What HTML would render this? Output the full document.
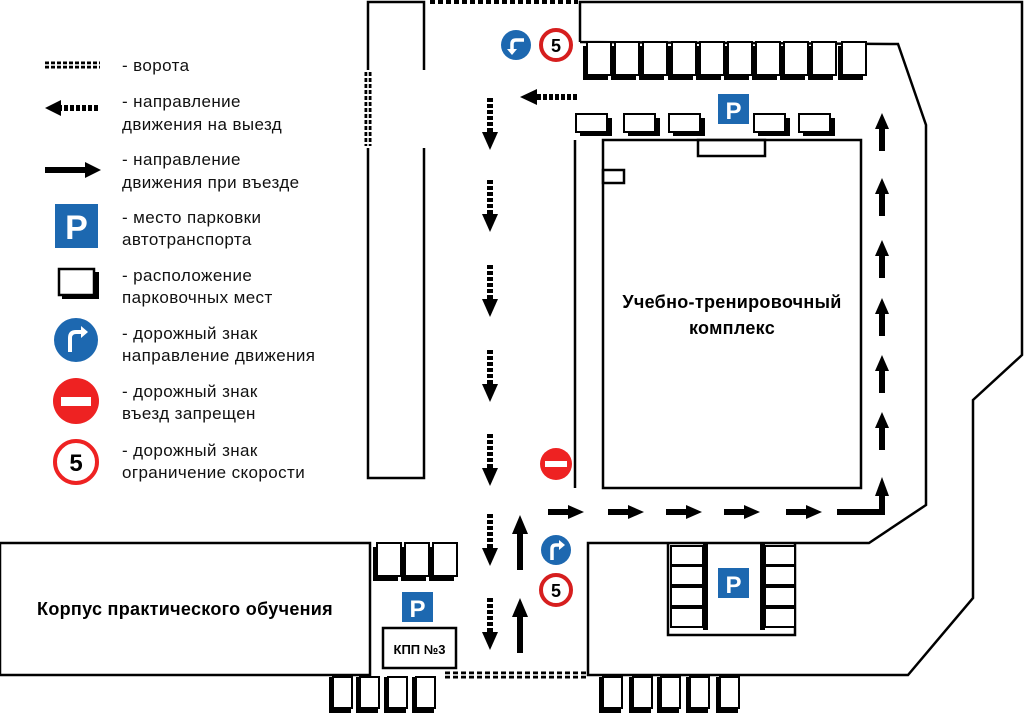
<!DOCTYPE html>
<html><head><meta charset="utf-8"><style>
html,body{margin:0;padding:0;background:#fff;}
svg{display:block;font-family:"Liberation Sans","DejaVu Sans",sans-serif;}
.lg{font-size:17px;fill:#111;letter-spacing:0.4px;}
.b{font-weight:bold;fill:#000;}
</style></head><body>
<svg width="1024" height="713" viewBox="0 0 1024 713" xmlns="http://www.w3.org/2000/svg">
<defs>
 <g id="sv"><rect x="0" y="4" width="25" height="34" fill="#000"/><rect x="4" y="0" width="24" height="33" fill="#fff" stroke="#000" stroke-width="2"/></g>
 <g id="sh"><rect x="4" y="4" width="32" height="18" fill="#000"/><rect x="0" y="0" width="31" height="18" fill="#fff" stroke="#000" stroke-width="2"/></g>
 <g id="sb"><rect x="0" y="0" width="22" height="36" fill="#000"/><rect x="4" y="0" width="19" height="31" fill="#fff" stroke="#000" stroke-width="2"/></g>
 <g id="dd"><line x1="0" y1="0" x2="0" y2="36" stroke="#000" stroke-width="6" stroke-dasharray="4 2"/><polygon points="-8,34 8,34 0,52" fill="#000"/></g>
 <g id="ua"><line x1="0" y1="14" x2="0" y2="55" stroke="#000" stroke-width="6"/><polygon points="-8,19 8,19 0,0" fill="#000"/></g>
 <g id="uas"><line x1="0" y1="12" x2="0" y2="38" stroke="#000" stroke-width="6"/><polygon points="-7,16 7,16 0,0" fill="#000"/></g>
 <g id="ra"><line x1="0" y1="0" x2="22" y2="0" stroke="#000" stroke-width="6"/><polygon points="20,-7 20,7 36,0" fill="#000"/></g>
 <g id="P"><rect x="0" y="0" width="31" height="30" fill="#1d68b0"/><text x="15.5" y="25" text-anchor="middle" font-size="24" font-weight="bold" fill="#fff">P</text></g>
 <g id="s5"><circle r="15" fill="#fff" stroke="#d61e1e" stroke-width="4"/><text y="7" text-anchor="middle" font-size="18" font-weight="bold" fill="#000">5</text></g>
</defs>

<!-- legend -->
<line x1="45" y1="65" x2="100" y2="65" stroke="#000" stroke-width="7" stroke-dasharray="4 2"/>
<line x1="45" y1="65" x2="100" y2="65" stroke="#fff" stroke-width="1.5"/>
<text class="lg" x="122" y="71">- ворота</text>
<line x1="58" y1="108" x2="100" y2="108" stroke="#000" stroke-width="6" stroke-dasharray="4 2"/>
<polygon points="45,108 61,100 61,116" fill="#000"/>
<text class="lg" x="122" y="107">- направление</text><text class="lg" x="122" y="130">движения на выезд</text>
<line x1="45" y1="170" x2="88" y2="170" stroke="#000" stroke-width="6"/>
<polygon points="85,162 85,178 101,170" fill="#000"/>
<text class="lg" x="122" y="165">- направление</text><text class="lg" x="122" y="188">движения при въезде</text>
<rect x="55" y="204" width="43" height="44" fill="#1d68b0"/><text x="76.5" y="239" text-anchor="middle" font-size="34" font-weight="bold" fill="#fff">P</text>
<text class="lg" x="122" y="223">- место парковки</text><text class="lg" x="122" y="245">автотранспорта</text>
<rect x="62" y="272" width="37" height="27" fill="#000"/><rect x="59" y="269" width="35" height="26" fill="#fff" stroke="#000" stroke-width="2.5"/>
<text class="lg" x="122" y="281">- расположение</text><text class="lg" x="122" y="303">парковочных мест</text>
<circle cx="76" cy="340" r="22" fill="#1d68b0"/><path d="M70,352 V338 Q70,332 76,332 H82" stroke="#fff" stroke-width="4" fill="none"/><polygon points="81,326 88,332 81,338" fill="#fff"/>
<text class="lg" x="122" y="339">- дорожный знак</text><text class="lg" x="122" y="361">направление движения</text>
<circle cx="76" cy="401" r="23" fill="#e22"/><rect x="61" y="397" width="30" height="9" fill="#fff"/>
<text class="lg" x="122" y="397">- дорожный знак</text><text class="lg" x="122" y="419">въезд запрещен</text>
<circle cx="76" cy="462" r="21" fill="#fff" stroke="#e22" stroke-width="4"/><text x="76" y="471" text-anchor="middle" font-size="24" font-weight="bold">5</text>
<text class="lg" x="122" y="456">- дорожный знак</text><text class="lg" x="122" y="478">ограничение скорости</text>

<!-- narrow building -->
<g stroke="#000" stroke-width="2.5" fill="none">
<polyline points="368,70 368,2 424,2 424,70"/>
<polyline points="368,148 368,478 424,478 424,148"/>
</g>
<line x1="368" y1="72" x2="368" y2="146" stroke="#000" stroke-width="7" stroke-dasharray="4 2"/>
<line x1="368" y1="72" x2="368" y2="146" stroke="#fff" stroke-width="1.5"/>
<line x1="430" y1="2" x2="578" y2="2" stroke="#000" stroke-width="4" stroke-dasharray="5 3"/>

<!-- outlines -->
<g stroke="#000" stroke-width="2.5" fill="none">
<polyline points="580,42 580,2 1022,2 1022,355 973,400 973,598 908,675 588,675 588,543 869,543 926,505 926,125 898,44 580,42"/>
<rect x="603" y="140" width="258" height="348"/>
<rect x="698" y="140" width="67" height="16"/>
<rect x="603" y="170" width="21" height="13"/>
<line x1="575" y1="140" x2="575" y2="488"/>
<rect x="0" y="543" width="370" height="132"/>
<rect x="383" y="628" width="73" height="40"/>
<polyline points="668,543 668,635 795,635 795,543"/>
</g>
<line x1="445" y1="675" x2="586" y2="675" stroke="#000" stroke-width="7" stroke-dasharray="5 3"/>
<line x1="445" y1="675" x2="586" y2="675" stroke="#fff" stroke-width="1.5"/>

<!-- top row stalls -->
<use href="#sv" x="583" y="42"/><use href="#sv" x="611" y="42"/><use href="#sv" x="639" y="42"/><use href="#sv" x="668" y="42"/><use href="#sv" x="696" y="42"/><use href="#sv" x="724" y="42"/><use href="#sv" x="752" y="42"/><use href="#sv" x="780" y="42"/><use href="#sv" x="808" y="42"/><use href="#sv" x="838" y="42"/>
<use href="#sh" x="576" y="114"/><use href="#sh" x="624" y="114"/><use href="#sh" x="669" y="114"/><use href="#sh" x="754" y="114"/><use href="#sh" x="799" y="114"/>
<use href="#P" x="718" y="94"/>

<!-- bottom-left stalls -->
<use href="#sv" x="373" y="543"/><use href="#sv" x="401" y="543"/><use href="#sv" x="429" y="543"/>
<use href="#P" x="402" y="592"/>
<text x="419.5" y="654" text-anchor="middle" font-size="13" class="b">КПП №3</text>
<text x="185" y="615" text-anchor="middle" font-size="18" class="b" letter-spacing="0.3">Корпус практического обучения</text>
<use href="#sb" x="329" y="677"/><use href="#sb" x="356" y="677"/><use href="#sb" x="384" y="677"/><use href="#sb" x="412" y="677"/>
<use href="#sb" x="599" y="677"/><use href="#sb" x="629" y="677"/><use href="#sb" x="657" y="677"/><use href="#sb" x="686" y="677"/><use href="#sb" x="716" y="677"/>

<!-- inner parking -->
<g stroke="#000" stroke-width="2" fill="#fff">
<rect x="671" y="546" width="32" height="19"/><rect x="671" y="566" width="32" height="19"/><rect x="671" y="587" width="32" height="19"/><rect x="671" y="608" width="32" height="19"/>
<rect x="765" y="546" width="30" height="19"/><rect x="765" y="566" width="30" height="19"/><rect x="765" y="587" width="30" height="19"/><rect x="765" y="608" width="30" height="19"/>
</g>
<rect x="703" y="544" width="5" height="86" fill="#000"/><rect x="760" y="544" width="5" height="86" fill="#000"/>
<use href="#P" x="718" y="568"/>

<!-- main building text -->
<text x="732" y="308" text-anchor="middle" font-size="18" class="b" letter-spacing="0.3">Учебно-тренировочный</text>
<text x="732" y="334" text-anchor="middle" font-size="18" class="b" letter-spacing="0.3">комплекс</text>

<!-- arrows -->
<use href="#dd" x="490" y="98"/><use href="#dd" x="490" y="180"/><use href="#dd" x="490" y="265"/><use href="#dd" x="490" y="350"/><use href="#dd" x="490" y="434"/><use href="#dd" x="490" y="514"/><use href="#dd" x="490" y="598"/>
<line x1="577" y1="97" x2="535" y2="97" stroke="#000" stroke-width="6" stroke-dasharray="4 2"/>
<polygon points="520,97 537,89 537,105" fill="#000"/>
<use href="#ua" x="520" y="515"/><use href="#ua" x="520" y="598"/>
<use href="#ra" x="548" y="512"/><use href="#ra" x="608" y="512"/><use href="#ra" x="666" y="512"/><use href="#ra" x="724" y="512"/><use href="#ra" x="786" y="512"/>
<polyline points="837,512 882,512 882,495" stroke="#000" stroke-width="6" fill="none"/>
<polygon points="875,496 889,496 882,477" fill="#000"/>
<use href="#uas" x="882" y="412"/><use href="#uas" x="882" y="355"/><use href="#uas" x="882" y="298"/><use href="#uas" x="882" y="240"/><use href="#uas" x="882" y="178"/><use href="#uas" x="882" y="113"/>

<!-- signs -->
<circle cx="516" cy="45" r="15" fill="#1d68b0"/><path d="M524,40 H516 Q512,40 512,44 V52" stroke="#fff" stroke-width="3.5" fill="none"/><polygon points="507,49 517,49 512,55" fill="#fff"/>
<use href="#s5" x="556" y="45"/>
<circle cx="556" cy="464" r="16" fill="#e22"/><rect x="545" y="461" width="22" height="6" fill="#fff"/>
<circle cx="556" cy="550" r="15" fill="#1d68b0"/><path d="M552,560 V549 Q552,545 556,545 H560" stroke="#fff" stroke-width="3.5" fill="none"/><polygon points="559,540 565,545 559,550" fill="#fff"/>
<use href="#s5" x="556" y="590"/>
</svg>
</body></html>
